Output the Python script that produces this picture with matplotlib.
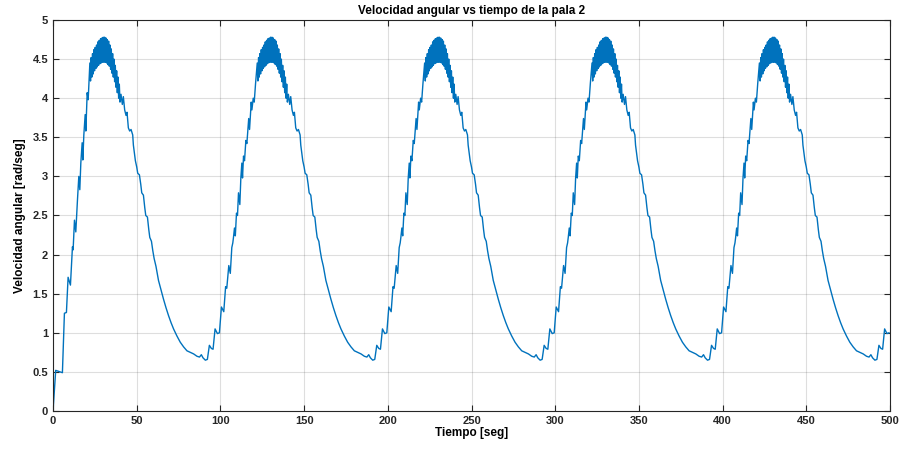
import numpy as np
import matplotlib
matplotlib.use("Agg")
import matplotlib.pyplot as plt

# first rise (t = 0 .. 22)
t_rise_first = [0, 1.6, 3.0, 5.6, 6.8, 8.0, 9.0, 10.4, 11.6, 12.0, 12.8, 13.6, 14.6,
                15.4, 16.0, 16.6, 17.4, 17.8, 18.4, 19.2, 19.6, 20.4, 21.0]
w_rise_first = [0, 0.52, 0.51, 0.49, 1.25, 1.26, 1.71, 1.61, 2.10, 2.06, 2.44, 2.29, 2.70,
                3.00, 2.83, 3.17, 3.43, 3.21, 3.53, 3.79, 3.58, 4.07, 3.98]

# rise of the following cycles (offset inside the 100 s period)
t_rise_next = [0.6, 2.0, 3.1, 3.8, 5.0, 5.9, 6.8, 7.4, 7.8, 8.4, 8.9, 9.6, 10.2, 10.8,
               11.6, 12.2, 12.8, 13.2, 13.8, 14.4, 15.2, 15.8, 16.9, 17.4, 18.4, 18.8,
               19.6, 20.2, 21.0]
w_rise_next = [1.33, 1.27, 1.59, 1.57, 1.86, 1.76, 2.09, 2.15, 2.22, 2.34, 2.24, 2.53, 2.50,
               2.79, 2.64, 2.98, 3.17, 2.98, 3.26, 3.20, 3.46, 3.42, 3.74, 3.60, 3.95, 3.85,
               4.00, 3.95, 4.19]

# peak with fast oscillation (same every period)
t_peak = [22.0, 22.4, 22.8, 23.2, 23.6, 24.0, 24.4, 24.8, 25.2, 25.6, 26.0, 26.4, 26.8,
          27.2, 27.6, 28.0, 28.4, 28.8, 29.2, 29.6, 30.0, 30.4, 30.8, 31.2, 31.6, 32.0,
          32.4, 32.8, 33.2, 33.6, 34.0, 34.4, 34.8, 35.2, 35.6, 36.0, 36.4, 36.8, 37.2,
          37.6, 38.0, 38.4, 38.8, 39.2, 39.6, 40.0]
w_peak = [4.45, 4.22, 4.52, 4.27, 4.57, 4.31, 4.62, 4.35, 4.65, 4.38, 4.68, 4.40, 4.72,
          4.42, 4.74, 4.44, 4.76, 4.45, 4.77, 4.46, 4.78, 4.46, 4.78, 4.46, 4.77, 4.45,
          4.75, 4.43, 4.73, 4.41, 4.68, 4.37, 4.63, 4.32, 4.57, 4.27, 4.50, 4.21, 4.42,
          4.14, 4.35, 4.07, 4.27, 4.00, 4.18, 3.95]

# fall and trough (same every period)
t_fall = [40.6, 41.4, 42.0, 42.8, 43.6, 44.2, 45.0, 45.8, 46.6, 47.6, 48.0, 48.6, 49.2,
          50.0, 50.6, 51.6, 52.4, 53.0, 54.0, 54.8, 55.4, 56.4, 57.2, 57.8, 58.8, 59.6,
          60.4, 61.5, 63.0, 64.5, 66.0, 67.5, 69.0, 70.5, 72.0, 74.0, 76.0, 78.0, 80.0,
          82.0, 84.0, 86.0, 87.5, 88.6, 89.6, 91.0, 92.2, 93.4, 94.6, 95.6, 96.8, 98.2,
          99.4]
w_fall = [4.05, 3.92, 4.02, 3.85, 3.78, 3.82, 3.62, 3.58, 3.60, 3.53, 3.40, 3.30, 3.20,
          3.12, 3.04, 3.02, 2.90, 2.79, 2.76, 2.60, 2.50, 2.48, 2.32, 2.22, 2.17, 2.05,
          1.95, 1.85, 1.67, 1.55, 1.43, 1.32, 1.22, 1.13, 1.05, 0.96, 0.88, 0.82, 0.77,
          0.75, 0.73, 0.70, 0.69, 0.72, 0.68, 0.65, 0.66, 0.84, 0.80, 0.79, 1.05, 0.99,
          1.00]

n_cycles = 5
period = 100

t_all, w_all = [], []
for k in range(n_cycles):
    if k == 0:
        tr, wr = t_rise_first, w_rise_first
    else:
        tr, wr = t_rise_next, w_rise_next
    t_all += [k * period + t for t in tr + t_peak + t_fall]
    w_all += list(wr) + list(w_peak) + list(w_fall)
t_all = np.array(t_all)
w_all = np.array(w_all)

plt.rcParams['font.family'] = ['Liberation Sans', 'DejaVu Sans']
plt.rcParams['font.weight'] = 'bold'

fig = plt.figure(figsize=(9.05, 4.49), dpi=100)
ax = fig.add_axes([0.0586, 0.0846, 0.9248, 0.8709])
ax.plot(t_all, w_all, color='#0072BD', lw=1.0)

ax.set_xlim(0, 500)
ax.set_ylim(0, 5)
ax.set_xticks(np.arange(0, 501, 50))
ax.set_yticks(np.arange(0, 5.01, 0.5))
ax.set_yticklabels(['0', '0.5', '1', '1.5', '2', '2.5', '3', '3.5', '4', '4.5', '5'])
ax.grid(True, color='#262626', alpha=0.15, lw=0.8)
ax.tick_params(direction='in', top=True, right=True, length=4, width=0.8,
               labelsize=8, colors='#262626')
for s in ax.spines.values():
    s.set_color('#262626')
    s.set_linewidth(0.8)

ax.set_title('Velocidad angular vs tiempo de la pala 2', fontsize=8.5,
             fontweight='bold', pad=4)
ax.set_xlabel('Tiempo [seg]', fontsize=8.5, fontweight='bold', labelpad=1)
ax.set_ylabel('Velocidad angular [rad/seg]', fontsize=8.5, fontweight='bold', labelpad=5)

fig.savefig('out.png', dpi=100)
